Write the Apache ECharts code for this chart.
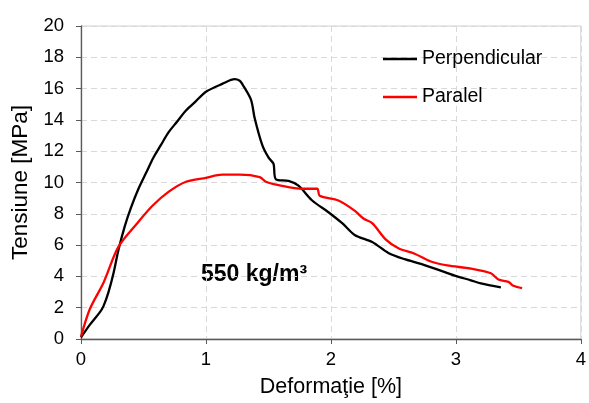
<!DOCTYPE html>
<html><head><meta charset="utf-8">
<script src="https://cdn.jsdelivr.net/npm/echarts@6/dist/echarts.min.js"></script>
<style>html,body{margin:0;padding:0;background:#fff}#c{width:589px;height:403px}</style>
</head><body><div id="c"></div>
<script>
const perpX = [0, 0.07, 0.15, 0.18, 0.22, 0.26, 0.30, 0.35, 0.40, 0.46, 0.52, 0.58, 0.64, 0.70, 0.77, 0.84, 0.92, 1.00, 1.13, 1.23, 1.27, 1.29, 1.36, 1.39, 1.45, 1.50, 1.54, 1.56, 1.66, 1.74, 1.85, 1.98, 2.09, 2.19, 2.33, 2.46, 2.59, 2.72, 2.85, 2.99, 3.12, 3.20, 3.36];
const perpY = [0.1, 0.9, 1.7, 2.1, 3.0, 4.2, 5.7, 7.2, 8.4, 9.6, 10.6, 11.6, 12.4, 13.2, 13.9, 14.6, 15.2, 15.8, 16.3, 16.6, 16.5, 16.3, 15.3, 14.1, 12.4, 11.6, 11.2, 10.2, 10.1, 9.8, 8.85, 8.1, 7.4, 6.65, 6.2, 5.5, 5.1, 4.8, 4.45, 4.05, 3.75, 3.55, 3.3];
const paraX = [0, 0.07, 0.18, 0.30, 0.45, 0.57, 0.70, 0.84, 1.00, 1.13, 1.27, 1.43, 1.48, 1.60, 1.77, 1.89, 1.91, 2.06, 2.19, 2.26, 2.33, 2.44, 2.54, 2.67, 2.80, 2.93, 3.12, 3.28, 3.34, 3.42, 3.46, 3.53];
const paraY = [0.15, 1.9, 3.6, 5.9, 7.4, 8.5, 9.4, 10.05, 10.3, 10.5, 10.5, 10.35, 10.05, 9.8, 9.6, 9.6, 9.15, 8.85, 8.2, 7.7, 7.4, 6.35, 5.8, 5.45, 4.95, 4.7, 4.5, 4.2, 3.8, 3.65, 3.4, 3.25];
const seriesNames = ['Perpendicular', 'Paralel'];
const xTitle = 'Deformaţie [%]';
const yTitle = 'Tensiune [MPa]';
const note = '550 kg/m³';

const zip = (a, b) => a.map((v, i) => [v, b[i]]);
const font = 'Liberation Sans, Arial, sans-serif';
const chart = echarts.init(document.getElementById('c'));
chart.setOption({
  animation: false,
  grid: {left: 81, right: 5, top: 26, bottom: 59, containLabel: false,
         show: true, borderColor: '#d0d0d0', borderWidth: 1},
  legend: {
    orient: 'vertical', left: 383, top: 49, padding: 0, itemWidth: 34, itemHeight: 2.5, itemGap: 18,
    icon: 'rect',
    textStyle: {fontFamily: font, fontSize: 19.5, color: '#000'},
    data: seriesNames
  },
  xAxis: {
    type: 'value', min: 0, max: 4, interval: 1,
    name: xTitle, nameLocation: 'middle', nameGap: 37,
    nameTextStyle: {fontFamily: font, fontSize: 21.5, color: '#000'},
    axisLine: {onZero: false, lineStyle: {color: '#595959', width: 1.3}},
    axisTick: {show: true, length: 5, lineStyle: {color: '#595959'}},
    axisLabel: {fontFamily: font, fontSize: 18.5, color: '#000', margin: 11},
    splitLine: {show: true, lineStyle: {color: '#d9d9d9', type: [6, 4]}}
  },
  yAxis: {
    type: 'value', min: 0, max: 20, interval: 2,
    name: yTitle, nameLocation: 'middle', nameGap: 48, nameRotate: 90,
    nameTextStyle: {fontFamily: font, fontSize: 22.5, color: '#000'},
    axisLine: {show: true, lineStyle: {color: '#595959', width: 1.3}},
    axisTick: {show: true, length: 5, lineStyle: {color: '#595959'}},
    axisLabel: {fontFamily: font, fontSize: 18.5, color: '#000', margin: 17},
    splitLine: {show: true, lineStyle: {color: '#d9d9d9', type: [6, 4]}}
  },
  graphic: [{
    type: 'text', left: 201, top: 263,
    style: {text: note, fontFamily: font, fontSize: 23, fontWeight: 'bold', fill: '#000'}
  }],
  series: [
    {name: seriesNames[0], type: 'line', data: zip(perpX, perpY), showSymbol: false, smooth: 0.3,
     lineStyle: {color: '#000', width: 2.3}, itemStyle: {color: '#000'}},
    {name: seriesNames[1], type: 'line', data: zip(paraX, paraY), showSymbol: false, smooth: 0.3,
     lineStyle: {color: '#ff0000', width: 2.3}, itemStyle: {color: '#ff0000'}}
  ]
});
</script></body></html>
